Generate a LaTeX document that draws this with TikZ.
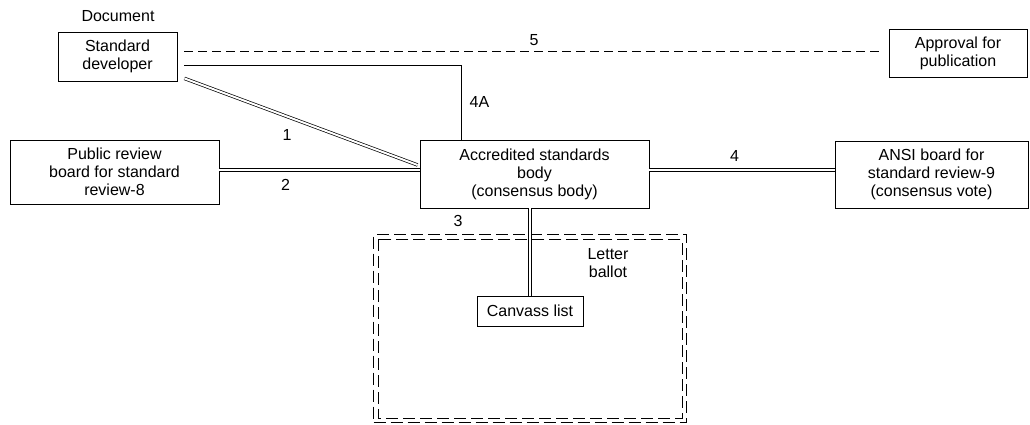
\documentclass[tikz,border=0pt]{standalone}
\usepackage{fontspec}
\setmainfont{Liberation Sans}
\usetikzlibrary{positioning}

\tikzset{
  box/.style={draw, line width=0.8pt, align=center, inner sep=0pt},
  dbl/.style={double, line width=0.7pt, double distance=2pt},
  dashln/.style={line width=0.8pt, dash pattern=on 9pt off 5pt},
  frame/.style={line width=0.8pt, dash pattern=on 12pt off 5pt},
}

\begin{document}
\begin{tikzpicture}[x=1pt, y=-1pt, font=\fontsize{16}{18}\selectfont]
    \useasboundingbox (0,0) rectangle (1030,424);
    %%% Boxes
    \node (doc) at (118,16) {Document};
    \node[box, minimum width=119pt, minimum height=49pt] (dev) at (117.5,56.5) {Standard\\developer};
    \node[box, minimum width=138pt, minimum height=48pt] (appr) at (958,53) {Approval for\\publication};
    \node[box, minimum width=209pt, minimum height=64pt] (pub) at (114.5,172) {Public review\\board for standard\\review-8};
    \node[box, minimum width=229pt, minimum height=68pt] (acc) at (534.5,174) {Accredited standards\\body\\(consensus body)};
    \node[box, minimum width=193pt, minimum height=67pt] (ansi) at (931.5,174.5) {ANSI board for\\standard review-9\\(consensus vote)};
    % letter ballot frame
    \node[draw, frame, minimum width=313pt, minimum height=188pt, inner sep=0pt] (ltr) at (530,328.5) {};
    \draw[frame] ([shift={(5,5)}]ltr.north west) rectangle ([shift={(-5,-5)}]ltr.south east); % inner line
    \node[align=center] (ballot) at (608,263) {Letter\\ballot};
    \node[box, minimum width=106pt, minimum height=30pt] (cvs) at (530,311) {Canvass list};
    %
    %%% Connectors
    \draw[dashln] ([shift={(7,-5)}]dev.east) coordinate (d5) -- node[above=2pt] {5} ([xshift=-5pt]d5 -| appr.west);
    \draw[line width=0.8pt] ([shift={(7,8.5)}]dev.east) -| node[pos=0.75, right=5pt] {4A} ([xshift=-73.5pt]acc.north);
    \draw[dbl] ([shift={(7,-3)}]dev.south east) -- node[pos=0.44, below=9pt] {1} ([shift={(-2,-9)}]acc.west);
    \draw[dbl] ([yshift=2pt]pub.east) -- node[pos=0.33, below=6pt] {2} ([yshift=2pt]pub.east -| acc.west);
    \draw[dbl] ([yshift=4pt]acc.east) -- node[pos=0.46, above=5pt] {4} ([yshift=4pt]acc.east -| ansi.west);
    \draw[dbl] (acc.south -| cvs.north) -- node[pos=0.15, xshift=-72pt] {3} (cvs.north); % ballot
\end{tikzpicture}
\end{document}
